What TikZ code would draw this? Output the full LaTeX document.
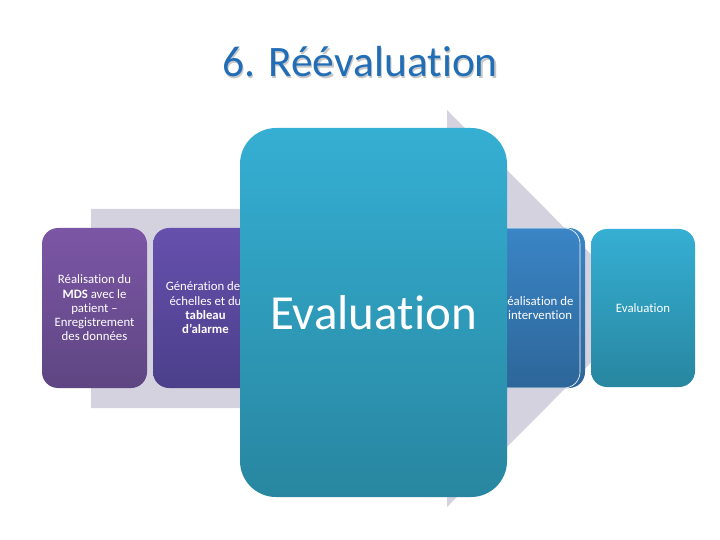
\documentclass[tikz,border=0pt]{standalone}
\usepackage{fontspec}
\setmainfont{Carlito}[Ligatures={NoCommon}]
\definecolor{arrowgray}{RGB}{213,210,224}
\definecolor{titleblue}{RGB}{33,110,182}
\definecolor{pA1}{RGB}{124,86,166}
\definecolor{pA2}{RGB}{94,70,130}
\definecolor{pB1}{RGB}{102,80,173}
\definecolor{pB2}{RGB}{75,63,138}
\definecolor{cy1}{RGB}{53,175,211}
\definecolor{cy2}{RGB}{40,134,160}
\definecolor{bl1}{RGB}{58,133,198}
\definecolor{bl2}{RGB}{45,102,153}
\tikzset{
  smallbox/.style={rounded corners=16pt, minimum width=105pt, minimum height=160pt,
    inner sep=0pt, text=white, align=center, font=\fontsize{12.8}{14.3}\selectfont},
  boxtext/.style={inner sep=0pt, text=white, align=center, font=\fontsize{12.8}{14.3}\selectfont},
  bigbox/.style={rounded corners=36pt, minimum width=267pt, minimum height=369pt,
    inner sep=0pt, text=white, font=\fontsize{49}{56}\selectfont},
}
\begin{document}
\begin{tikzpicture}[x=1pt,y=-1pt]
\useasboundingbox (0,0) rectangle (720,540);
% title
\node (titleshadow) at (361.2,63.2) {\textcolor{black!22}{\fontsize{43.5}{50}\selectfont 6. Réévaluation}};
\node (title) at (360,62) {\textcolor{titleblue}{\fontsize{43.5}{50}\selectfont 6. Réévaluation}};
% background arrow
\fill[arrowgray] (91,209) -- (447,209) -- (447,110) -- (645,308.5) -- (447,507) -- (447,408) -- (91,408) -- cycle;
% boxes
\node[smallbox, top color=pA1, bottom color=pA2] (b1) at (94.5,308)
  {Réalisation du\\\textbf{MDS} avec le\\patient –\\Enregistrement\\des données};
\node[smallbox, top color=pB1, bottom color=pB2] (b2) at (205.5,308)
  {Génération des\\échelles et du\\\textbf{tableau}\\\textbf{d’alarme}};
\node[smallbox, top color=bl1, bottom color=bl2] (b3) at (532.5,308) {};
\node[smallbox, top color=bl1, bottom color=bl2, draw=white, line width=0.6pt] (b4) at (527.5,308) {};
\node[boxtext] (b4text) at (537,308) {Réalisation de\\l’intervention};
\node[smallbox, minimum width=104pt, minimum height=158pt, top color=cy1, bottom color=cy2] (b5) at (643,308)
  {Evaluation};
\node[bigbox, top color=cy1, bottom color=cy2] (big) at (373.5,312.5) {Evaluation};
\end{tikzpicture}
\end{document}
